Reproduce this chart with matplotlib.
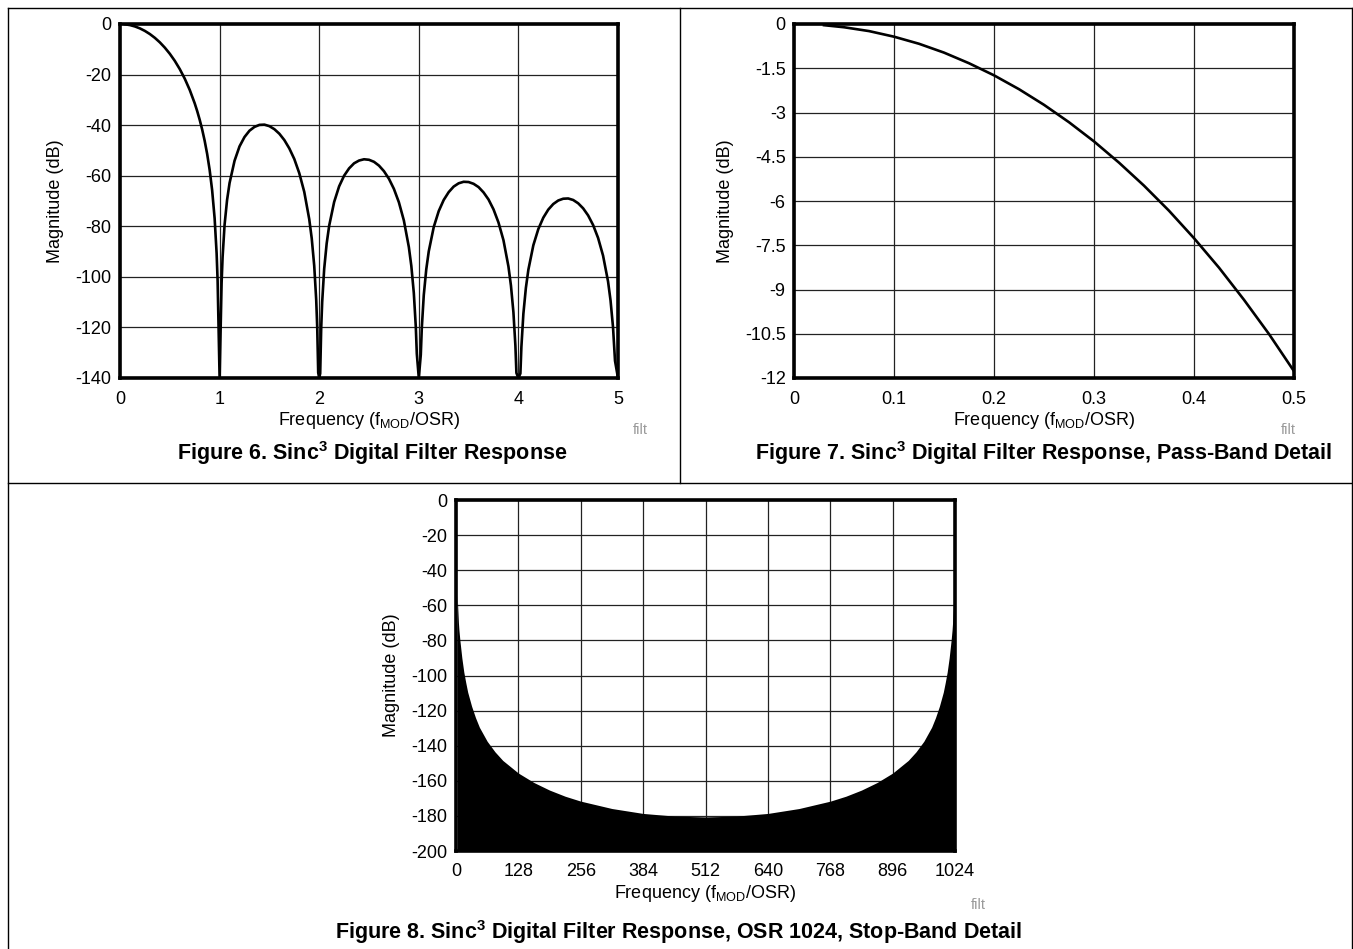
import matplotlib
matplotlib.use("Agg")
import matplotlib.pyplot as plt
from matplotlib.lines import Line2D

plt.rcParams['font.family'] = ['Liberation Sans', 'DejaVu Sans']
plt.rcParams['mathtext.fontset'] = 'custom'
plt.rcParams['mathtext.rm'] = 'Liberation Sans'
plt.rcParams['mathtext.it'] = 'Liberation Sans'
plt.rcParams['mathtext.bf'] = 'Liberation Sans:bold'

# Figure 6 - full response, 0..5 (nulls clipped at -140 dB)
f6_freq = [0.05, 0.1, 0.15, 0.2, 0.25, 0.3, 0.35, 0.4, 0.45, 0.5, 0.55, 0.6, 0.65, 0.7,
           0.75, 0.775, 0.8, 0.825, 0.85, 0.875, 0.9, 0.925, 0.95, 0.97, 0.98, 0.99, 1.0,
           1.01, 1.02, 1.03, 1.05, 1.075, 1.1, 1.15, 1.2, 1.25, 1.3, 1.35, 1.4, 1.45, 1.5,
           1.55, 1.6, 1.65, 1.7, 1.75, 1.8, 1.85, 1.9, 1.925, 1.95, 1.97, 1.98, 1.99, 2.0,
           2.01, 2.02, 2.03, 2.05, 2.075, 2.1, 2.15, 2.2, 2.25, 2.3, 2.35, 2.4, 2.45, 2.5,
           2.55, 2.6, 2.65, 2.7, 2.75, 2.8, 2.85, 2.9, 2.925, 2.95, 2.97, 2.98, 3.0,
           3.02, 3.03, 3.05, 3.075, 3.1, 3.15, 3.2, 3.25, 3.3, 3.35, 3.4, 3.45, 3.5,
           3.55, 3.6, 3.65, 3.7, 3.75, 3.8, 3.85, 3.9, 3.925, 3.95, 3.97, 3.98, 4.0,
           4.02, 4.03, 4.05, 4.075, 4.1, 4.15, 4.2, 4.25, 4.3, 4.35, 4.4, 4.45, 4.5,
           4.55, 4.6, 4.65, 4.7, 4.75, 4.8, 4.85, 4.9, 4.925, 4.95, 4.97, 5.0]
f6_mag = [-0.11, -0.43, -0.97, -1.74, -2.74, -3.98, -5.48, -7.26, -9.35, -11.77, -14.57,
          -17.83, -21.61, -26.06, -31.36, -34.43, -37.86, -41.73, -46.17, -51.38, -57.68,
          -65.71, -76.83, -90.62, -101.4, -119.7, -140,
          -120.3, -102.5, -92.2, -79.4, -69.6, -62.9, -54.1, -48.4, -44.7, -42.2, -40.7,
          -39.9, -39.8, -40.4, -41.6, -43.4, -45.9, -49.2, -53.4, -59.0, -66.4, -77.2,
          -84.8, -95.6, -109.1, -119.8, -137.9, -140,
          -138.2, -120.3, -109.9, -96.9, -86.8, -79.8, -70.4, -64.2, -60.0, -57.1, -55.1,
          -54.0, -53.5, -53.7, -54.5, -56.0, -58.2, -61.2, -65.2, -70.5, -77.7, -88.2,
          -95.7, -106.4, -119.8, -130.4, -140,
          -130.8, -120.3, -107.2, -97.0, -89.9, -80.3, -74.0, -69.6, -66.5, -64.3, -63.0,
          -62.4, -62.5, -63.2, -64.5, -66.6, -69.4, -73.3, -78.5, -85.5, -95.9, -103.4,
          -114.0, -127.3, -138.0, -140,
          -138.2, -127.7, -114.6, -104.4, -97.2, -87.5, -81.1, -76.6, -73.4, -71.2, -69.8,
          -69.1, -69.0, -69.6, -70.9, -72.9, -75.7, -79.5, -84.6, -91.6, -101.8, -109.3,
          -119.9, -133.2, -140]

# Figure 7 - pass band detail, 0..0.5
f7_freq = [0.03, 0.05, 0.075, 0.1, 0.125, 0.15, 0.175, 0.2, 0.225, 0.25, 0.275, 0.3,
           0.325, 0.35, 0.375, 0.4, 0.425, 0.45, 0.475, 0.5]
f7_mag = [-0.04, -0.11, -0.24, -0.43, -0.67, -0.97, -1.33, -1.74, -2.21, -2.74, -3.33,
          -3.98, -4.70, -5.48, -6.33, -7.26, -8.26, -9.35, -10.51, -11.77]

# Figure 8 - OSR 1024 stop band, envelope of the filled region
f8_freq = [2.5, 3, 4, 5, 6, 8, 10, 12, 16, 20, 24, 32, 40, 48, 64, 80, 96, 128, 160, 192,
           224, 256, 320, 384, 448, 512, 576, 640, 704, 768, 800, 832, 864, 896, 928, 944,
           960, 976, 984, 992, 1000, 1004, 1008, 1012, 1014, 1016, 1018, 1019, 1020, 1021]
f8_mag = [-54, -58, -64, -70, -74, -80, -85, -90, -98, -104, -109.5, -117.5,
          -124, -129.5, -137.5, -143.5, -148.4, -155.6, -161.0, -165.3, -168.8, -171.6,
          -175.8, -178.6, -180.1, -180.6, -180.1, -178.6, -175.8, -171.6, -168.8, -165.3,
          -161.0, -155.6, -148.4, -143.5, -137.5, -129.5, -124, -117.5, -109.5, -104,
          -98, -90, -85, -80, -74, -70, -65, -60]

W, H = 1353, 949
fig = plt.figure(figsize=(W / 100, H / 100), dpi=100)


def px_axes(x0, y0, x1, y1):
    return fig.add_axes([x0 / W, 1 - y1 / H, (x1 - x0) / W, (y1 - y0) / H])


def style(ax, xticks, xlabels, yticks, ylabels):
    ax.set_xticks(xticks)
    ax.set_xticklabels(xlabels)
    ax.set_yticks(yticks)
    ax.set_yticklabels(ylabels)
    ax.grid(True, color='#222222', linewidth=0.9)
    ax.set_axisbelow(True)
    ax.tick_params(length=0, labelsize=13, colors='black')
    ax.tick_params(axis='x', pad=9)
    ax.tick_params(axis='y', pad=6)
    for s in ax.spines.values():
        s.set_linewidth(2.6)
        s.set_zorder(5)
    ax.set_xlabel('Frequency (f$_{\\mathrm{MOD}}$/OSR)', fontsize=13, labelpad=2)
    ax.set_ylabel('Magnitude (dB)', fontsize=13, labelpad=8)


# Figure 6
ax6 = px_axes(120, 24, 618, 378)
ax6.plot(f6_freq, f6_mag, color='black', linewidth=1.9)
ax6.set_xlim(0, 5)
ax6.set_ylim(-140, 0)
style(ax6, [0, 1, 2, 3, 4, 5], ['0', '1', '2', '3', '4', '5'],
      [0, -20, -40, -60, -80, -100, -120, -140],
      ['0', '-20', '-40', '-60', '-80', '-100', '-120', '-140'])

# Figure 7
ax7 = px_axes(794, 24, 1294, 378)
ax7.plot(f7_freq, f7_mag, color='black', linewidth=1.9)
ax7.set_xlim(0, 0.5)
ax7.set_ylim(-12, 0)
style(ax7, [0, 0.1, 0.2, 0.3, 0.4, 0.5], ['0', '0.1', '0.2', '0.3', '0.4', '0.5'],
      [0, -1.5, -3, -4.5, -6, -7.5, -9, -10.5, -12],
      ['0', '-1.5', '-3', '-4.5', '-6', '-7.5', '-9', '-10.5', '-12'])

# Figure 8
ax8 = px_axes(456, 500, 955, 851)
ax8.fill_between(f8_freq, f8_mag, -200, color='black', linewidth=0, zorder=3)
ax8.set_xlim(0, 1024)
ax8.set_ylim(-200, 0)
style(ax8, [0, 128, 256, 384, 512, 640, 768, 896, 1024],
      ['0', '128', '256', '384', '512', '640', '768', '896', '1024'],
      list(range(0, -201, -20)), [str(v) for v in range(0, -201, -20)])

# captions
fig.text(372 / W, 1 - 453 / H, 'Figure 6. Sinc$^{\\mathbf{3}}$ Digital Filter Response',
         ha='center', va='center', fontsize=15.5, fontweight='bold')
fig.text(1044 / W, 1 - 453 / H,
         'Figure 7. Sinc$^{\\mathbf{3}}$ Digital Filter Response, Pass-Band Detail',
         ha='center', va='center', fontsize=15.5, fontweight='bold')
fig.text(679 / W, 1 - 932 / H,
         'Figure 8. Sinc$^{\\mathbf{3}}$ Digital Filter Response, OSR 1024, Stop-Band Detail',
         ha='center', va='center', fontsize=15.5, fontweight='bold')
for x, y in [(640, 430), (1288, 430), (978, 905)]:
    fig.text(x / W, 1 - y / H, 'filt', ha='center', va='center', fontsize=10.5, color='#9a9a9a')

# panel frame
for xs, ys in [((8, 1352), (8, 8)), ((8, 8), (8, 949)), ((1352, 1352), (8, 949)),
               ((8, 1352), (483, 483)), ((680, 680), (8, 483))]:
    fig.add_artist(Line2D([x / W for x in xs], [1 - y / H for y in ys],
                          color='black', linewidth=1.0))

fig.savefig('out.png', dpi=100)
